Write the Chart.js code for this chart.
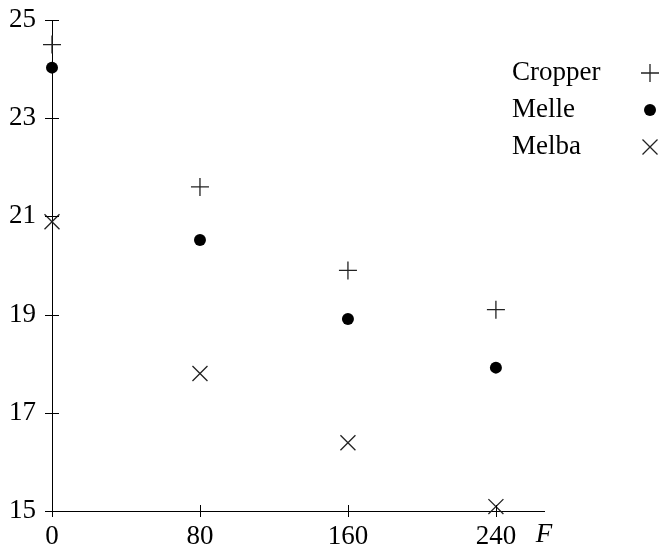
<!DOCTYPE html>
<html>
<head>
<meta charset="utf-8">
<script src="https://cdn.jsdelivr.net/npm/chart.js@4"></script>
<style>
  html, body { margin: 0; padding: 0; background: #fff; }
  #wrap { position: relative; width: 661px; height: 545px; }
</style>
</head>
<body>
<div id="wrap"><canvas id="yieldChart" width="661" height="545"></canvas></div>
<script>
// Values
const nitrogen = [0, 80, 160, 240];
const cropper = [24.5, 21.6, 19.9, 19.1];
const melle = [24.03, 20.52, 18.91, 17.92];
const melba = [20.89, 17.8, 16.39, 15.09];
const xTicks = [0, 80, 160, 240];
const yTicks = [15, 17, 19, 21, 23, 25];

const serif = 'Liberation Serif, Times New Roman, serif';

function toPoints(ys) {
  return nitrogen.map((x, i) => ({ x: x, y: ys[i] }));
}

// tick marks crossing the axes, the F label and the legend on the right
const decorations = {
  id: 'decorations',
  afterDraw(chart) {
    const ctx = chart.ctx;
    const xs = chart.scales.x, ys = chart.scales.y;
    const area = chart.chartArea;
    ctx.save();
    ctx.strokeStyle = '#000';
    ctx.lineWidth = 1;
    yTicks.forEach(v => {
      const py = Math.round(ys.getPixelForValue(v)) + 0.5;
      ctx.beginPath();
      ctx.moveTo(area.left - 7, py);
      ctx.lineTo(area.left + 7, py);
      ctx.stroke();
    });
    xTicks.forEach(v => {
      const px = Math.round(xs.getPixelForValue(v)) + 0.5;
      ctx.beginPath();
      ctx.moveTo(px, area.bottom - 6);
      ctx.lineTo(px, area.bottom + 6);
      ctx.stroke();
    });

    ctx.fillStyle = '#000';
    ctx.font = 'italic 27px ' + serif;
    ctx.textAlign = 'center';
    ctx.textBaseline = 'middle';
    ctx.fillText('F', area.right, 535);

    // legend
    ctx.font = '27px ' + serif;
    ctx.textAlign = 'left';
    chart.data.datasets.forEach((ds, i) => {
      const y = 73 + i * 37;
      ctx.fillStyle = '#000';
      ctx.fillText(ds.label, 512, y);
      const mx = 650;
      ctx.strokeStyle = ds.borderColor;
      ctx.lineWidth = ds.borderWidth;
      if (ds.pointStyle === 'cross') {
        ctx.beginPath();
        ctx.moveTo(mx - 9, y); ctx.lineTo(mx + 9, y);
        ctx.moveTo(mx, y - 9); ctx.lineTo(mx, y + 9);
        ctx.stroke();
      } else if (ds.pointStyle === 'crossRot') {
        const d = 7.5;
        ctx.beginPath();
        ctx.moveTo(mx - d, y - d); ctx.lineTo(mx + d, y + d);
        ctx.moveTo(mx - d, y + d); ctx.lineTo(mx + d, y - d);
        ctx.stroke();
      } else {
        ctx.fillStyle = ds.backgroundColor;
        ctx.beginPath();
        ctx.arc(mx, y, ds.pointRadius, 0, Math.PI * 2);
        ctx.fill();
      }
    });
    ctx.restore();
  }
};

new Chart(document.getElementById('yieldChart'), {
  type: 'scatter',
  data: {
    datasets: [{
      label: 'Cropper',
      data: toPoints(cropper),
      pointStyle: 'cross',
      pointRadius: 9,
      borderColor: '#222',
      backgroundColor: '#222',
      borderWidth: 1.3,
      clip: false
    }, {
      label: 'Melle',
      data: toPoints(melle),
      pointStyle: 'circle',
      pointRadius: 6,
      borderColor: '#000',
      backgroundColor: '#000',
      borderWidth: 0,
      clip: false
    }, {
      label: 'Melba',
      data: toPoints(melba),
      pointStyle: 'crossRot',
      pointRadius: 10.6,
      borderColor: '#222',
      backgroundColor: '#222',
      borderWidth: 1.3,
      clip: false
    }]
  },
  options: {
    responsive: false,
    animation: false,
    layout: { padding: { top: 20, right: 117, left: 0, bottom: 0 } },
    scales: {
      x: {
        type: 'linear',
        min: 0,
        max: 266,
        afterBuildTicks: scale => { scale.ticks = xTicks.map(v => ({ value: v })); },
        afterFit: scale => { scale.height = 34; scale.paddingLeft = 0; scale.paddingRight = 0; },
        grid: { display: false },
        border: { display: true, color: '#000', width: 1 },
        ticks: {
          color: '#000',
          font: { family: serif, size: 27 },
          padding: 2,
          maxRotation: 0
        }
      },
      y: {
        min: 15,
        max: 25,
        afterBuildTicks: scale => { scale.ticks = yTicks.map(v => ({ value: v })); },
        afterFit: scale => { scale.width = 52; scale.paddingTop = 0; scale.paddingBottom = 0; },
        grid: { display: false },
        border: { display: true, color: '#000', width: 1 },
        ticks: {
          color: '#000',
          font: { family: serif, size: 27 },
          padding: 8
        }
      }
    },
    plugins: {
      legend: { display: false },
      tooltip: { enabled: false }
    }
  },
  plugins: [decorations]
});
</script>
</body>
</html>
